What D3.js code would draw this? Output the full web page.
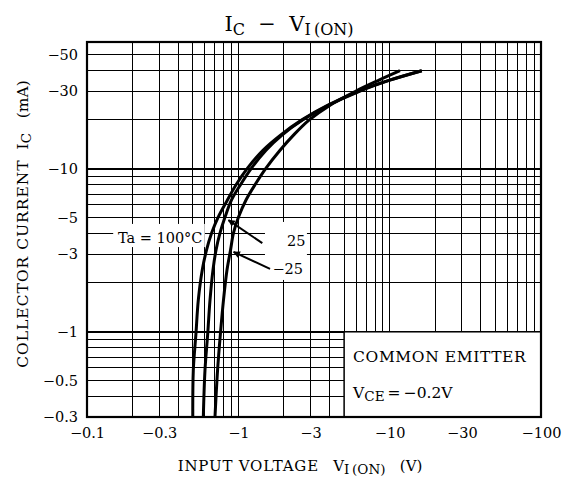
<!DOCTYPE html>
<html>
<head>
<meta charset="utf-8">
<script src="https://cdn.jsdelivr.net/npm/d3@7"></script>
<style>
  html, body { margin: 0; padding: 0; background: #fff; }
  svg { display: block; }
  text { font-family: "DejaVu Serif", "Liberation Serif", serif; fill: #000; }
</style>
</head>
<body>
<div id="chart"></div>
<script>
// ---------- data ----------
const xTickValues = [0.1, 0.3, 1, 3, 10, 30, 100];
const xTickLabels = ["−0.1", "−0.3", "−1", "−3", "−10", "−30", "−100"];
const yTickValues = [0.3, 0.5, 1, 3, 5, 10, 30, 50];
const yTickLabels = ["−0.3", "−0.5", "−1", "−3", "−5", "−10", "−30", "−50"];

const xGrid = [0.2, 0.3, 0.4, 0.5, 0.6, 0.7, 0.8, 0.9, 1, 2, 3, 4, 5, 6, 7, 8, 9, 10, 20, 30, 40, 50, 60, 70, 80, 90];
const yGrid = [0.4, 0.5, 0.6, 0.7, 0.8, 0.9, 1, 2, 3, 4, 5, 6, 7, 8, 9, 10, 20, 30, 40, 50];

// |I_C| (mA) sample points shared by the three curves
const currents = [0.3, 0.58, 0.98, 1.57, 2.4, 3.17, 4.04, 5.06, 6.44, 8.07, 10.1, 13, 16.1, 19.9, 24.6, 30, 35, 40];
// |V_I(ON)| (V) for Ta = 100°C
const v100 = [0.50, 0.504, 0.525, 0.544, 0.578, 0.616, 0.666, 0.736, 0.847, 0.973, 1.15, 1.455, 1.90, 2.615, 3.91, 6.27, 9.97, 16.3];
// Ta = 25°C
const v25 = [0.587, 0.602, 0.628, 0.650, 0.680, 0.712, 0.757, 0.817, 0.902, 1.041, 1.222, 1.524, 1.944, 2.655, 3.97, 6.37, 10.05, 16.3];
// Ta = -25°C
const vM25 = [0.701, 0.729, 0.762, 0.798, 0.842, 0.888, 0.929, 1.003, 1.124, 1.298, 1.524, 1.886, 2.315, 2.93, 4.04, 5.99, 8.50, 11.7];

// ---------- layout ----------
const W = 565, H = 485;
const L = 87, R = 541, T = 42, B = 417;

const svg = d3.select("#chart").append("svg").attr("width", W).attr("height", H);
svg.append("rect").attr("width", W).attr("height", H).attr("fill", "#fff");

const x = d3.scaleLog().domain([0.1, 100]).range([L, R]);
const y = d3.scaleLog().domain([0.3, 60]).range([B, T]);

// grid
const g = svg.append("g");
g.selectAll("line.vx").data(xGrid).join("line").attr("class", "vx")
  .attr("x1", d => x(d)).attr("x2", d => x(d)).attr("y1", T).attr("y2", B)
  .attr("stroke", "#000").attr("stroke-width", d => (d === 1 || d === 10) ? 1.6 : 1).attr("shape-rendering", "crispEdges");
g.selectAll("line.hy").data(yGrid).join("line").attr("class", "hy")
  .attr("y1", d => y(d)).attr("y2", d => y(d)).attr("x1", L).attr("x2", R)
  .attr("stroke", "#000").attr("stroke-width", d => (d === 1 || d === 10) ? 1.6 : 1).attr("shape-rendering", "crispEdges");

// white backgrounds behind labels (in data coords)
const bgRects = [
  { v0: 0.149, v1: 0.60, i0: 3.31, i1: 4.59 },
  { v0: 1.50, v1: 2.84, i0: 2.08, i1: 4.72 }
];
svg.selectAll("rect.bg").data(bgRects).join("rect").attr("class", "bg")
  .attr("x", d => x(d.v0)).attr("y", d => y(d.i1))
  .attr("width", d => x(d.v1) - x(d.v0)).attr("height", d => y(d.i0) - y(d.i1))
  .attr("fill", "#fff");

// curves
const line = d3.line().x(d => x(d[0])).y(d => y(d[1])).curve(d3.curveCatmullRom.alpha(0.5));
const series = [
  d3.zip(v100, currents),
  d3.zip(v25, currents),
  d3.zip(vM25, currents)
];
svg.selectAll("path.curve").data(series).join("path").attr("class", "curve")
  .attr("d", line).attr("fill", "none").attr("stroke", "#000")
  .attr("stroke-width", 3).attr("stroke-linecap", "butt").attr("stroke-linejoin", "round");

// arrows
svg.append("defs").append("marker")
  .attr("id", "ah").attr("viewBox", "0 0 10 10").attr("refX", 9).attr("refY", 5)
  .attr("markerWidth", 10).attr("markerHeight", 7).attr("markerUnits", "userSpaceOnUse")
  .attr("orient", "auto")
  .append("path").attr("d", "M0,0 L10,5 L0,10 Z").attr("fill", "#000");
const arrows = [
  { v0: 1.44, i0: 3.5, v1: 0.86, i1: 4.84 },
  { v0: 1.62, i0: 2.43, v1: 0.93, i1: 3.09 }
];
svg.selectAll("line.arrow").data(arrows).join("line").attr("class", "arrow")
  .attr("x1", d => x(d.v0)).attr("y1", d => y(d.i0))
  .attr("x2", d => x(d.v1)).attr("y2", d => y(d.i1))
  .attr("stroke", "#000").attr("stroke-width", 2).attr("marker-end", "url(#ah)");

// labels
const labels = [
  { t: "Ta = 100°C", v: 0.16, i: 3.78 },
  { t: "25", v: 2.1, i: 3.6 },
  { t: "−25", v: 1.68, i: 2.45 }
];
svg.selectAll("text.lbl").data(labels).join("text").attr("class", "lbl")
  .attr("x", d => x(d.v)).attr("y", d => y(d.i)).attr("dy", "0.36em")
  .attr("text-anchor", "start").attr("font-size", 14.5).text(d => d.t);

// COMMON EMITTER box
const boxG = svg.append("g");
boxG.append("rect").attr("x", x(5)).attr("y", y(1)).attr("width", x(100) - x(5)).attr("height", y(0.3) - y(1))
  .attr("fill", "#fff").attr("stroke", "#000").attr("stroke-width", 1.5);
boxG.append("text").attr("x", x(5) + 9).attr("y", y(1) + 30).attr("font-size", 15.5)
  .attr("letter-spacing", 0.6).text("COMMON EMITTER");
const vce = boxG.append("text").attr("x", x(5) + 9).attr("y", y(1) + 66).attr("font-size", 15.5);
vce.append("tspan").text("V");
vce.append("tspan").attr("font-size", 13.5).attr("dy", 3).text("CE");
vce.append("tspan").attr("dy", -3).text("\u2009=\u2009−0.2V");

// plot border
svg.append("rect").attr("x", L).attr("y", T).attr("width", R - L).attr("height", B - T)
  .attr("fill", "none").attr("stroke", "#000").attr("stroke-width", 2.2);

// axes
const xAxis = svg.append("g").attr("transform", `translate(0,${B})`)
  .call(d3.axisBottom(x).tickValues(xTickValues).tickFormat((d, i) => xTickLabels[i]).tickSize(0).tickPadding(11));
const yAxis = svg.append("g").attr("transform", `translate(${L},0)`)
  .call(d3.axisLeft(y).tickValues(yTickValues).tickFormat((d, i) => yTickLabels[i]).tickSize(0).tickPadding(9));
[xAxis, yAxis].forEach(a => {
  a.select(".domain").remove();
  a.selectAll("text").attr("font-family", "DejaVu Serif").attr("font-size", 14.5).attr("fill", "#000");
});

// title
const title = svg.append("text").attr("x", 289).attr("y", 31).attr("text-anchor", "middle").attr("font-size", 21).style("white-space", "pre");
title.append("tspan").text("I");
title.append("tspan").attr("font-size", 16).attr("dy", 4).text("C");
title.append("tspan").attr("dy", -4).text("  −  V");
title.append("tspan").attr("font-size", 16).attr("dy", 4).text("I\u2009(ON)");

// x axis title
const xt = svg.append("text").attr("x", 300).attr("y", 471).attr("text-anchor", "middle").attr("font-size", 15).style("white-space", "pre");
xt.append("tspan").attr("letter-spacing", 0.8).text("INPUT VOLTAGE");
xt.append("tspan").text("   V");
xt.append("tspan").attr("font-size", 13.5).attr("dy", 3).text("I\u2009(ON)");
xt.append("tspan").attr("dy", -3).text("   (V)");

// y axis title
const yt = svg.append("text").attr("transform", "translate(27.5,224) rotate(-90)").attr("text-anchor", "middle").attr("font-size", 15.5).style("white-space", "pre");
yt.append("tspan").attr("letter-spacing", 1).text("COLLECTOR CURRENT");
yt.append("tspan").text("  I");
yt.append("tspan").attr("font-size", 13.5).attr("dy", 3).text("C");
yt.append("tspan").attr("dy", -3).text("   (mA)");
</script>
</body>
</html>
